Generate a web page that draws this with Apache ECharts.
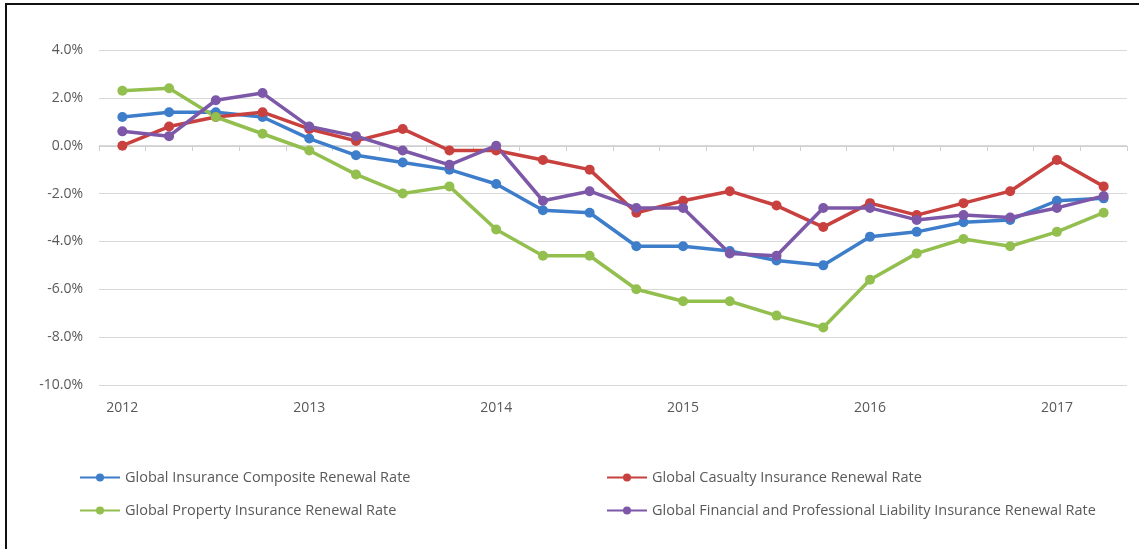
<!DOCTYPE html>
<html>
<head>
<meta charset="utf-8">
<script src="https://cdn.jsdelivr.net/npm/echarts@6/dist/echarts.min.js"></script>
<style>
html,body{margin:0;padding:0;background:#fff;}
#frame{position:absolute;left:5px;top:3px;width:1134px;height:546px;border-left:2px solid #111;border-top:2px solid #111;box-sizing:border-box;}
#chart{position:absolute;left:0;top:0;width:1139px;height:549px;}
</style>
</head>
<body>
<div id="frame"></div>
<div id="chart"></div>
<script>
const categories = ['2012','2012Q2','2012Q3','2012Q4','2013','2013Q2','2013Q3','2013Q4','2014','2014Q2','2014Q3','2014Q4','2015','2015Q2','2015Q3','2015Q4','2016','2016Q2','2016Q3','2016Q4','2017','2017Q2'];
const composite = [1.2,1.4,1.4,1.2,0.3,-0.4,-0.7,-1.0,-1.6,-2.7,-2.8,-4.2,-4.2,-4.4,-4.8,-5.0,-3.8,-3.6,-3.2,-3.1,-2.3,-2.2];
const casualty  = [0.0,0.8,1.2,1.4,0.7,0.2,0.7,-0.2,-0.2,-0.6,-1.0,-2.8,-2.3,-1.9,-2.5,-3.4,-2.4,-2.9,-2.4,-1.9,-0.6,-1.7];
const property  = [2.3,2.4,1.2,0.5,-0.2,-1.2,-2.0,-1.7,-3.5,-4.6,-4.6,-6.0,-6.5,-6.5,-7.1,-7.6,-5.6,-4.5,-3.9,-4.2,-3.6,-2.8];
const financial = [0.6,0.4,1.9,2.2,0.8,0.4,-0.2,-0.8,0.0,-2.3,-1.9,-2.6,-2.6,-4.5,-4.6,-2.6,-2.6,-3.1,-2.9,-3.0,-2.6,-2.1];
const seriesNames = [
  'Global Insurance Composite Renewal Rate',
  'Global Casualty Insurance Renewal Rate',
  'Global Property Insurance Renewal Rate',
  'Global Financial and Professional Liability Insurance Renewal Rate'
];
const colors = ['#3d7dca','#c8413f','#93bf4f','#7d58a8'];

const chart = echarts.init(document.getElementById('chart'));
function mk(name, data, color){
  return {name:name,type:'line',data:data,symbol:'circle',symbolSize:10,
    lineStyle:{width:3.5,color:color},itemStyle:{color:color},emphasis:{disabled:true}};
}
const legendBase = {orient:'vertical',itemWidth:40,itemHeight:10,itemGap:18,
  textStyle:{color:'#595959',fontSize:14.5,fontFamily:'Open Sans'}};
chart.setOption({
  animation:false,
  color:colors,
  grid:{left:99,right:12,top:50,bottom:164,containLabel:false,outerBoundsMode:'none'},
  legend:[
    Object.assign({},legendBase,{left:74,top:465,data:[seriesNames[0],seriesNames[2]]}),
    Object.assign({},legendBase,{left:601,top:465,data:[seriesNames[1],seriesNames[3]]})
  ],
  xAxis:[{
    type:'category',data:categories,boundaryGap:true,position:'bottom',
    axisLine:{show:false,onZero:false},axisTick:{show:false},
    axisLabel:{interval:3,color:'#595959',fontSize:14,fontFamily:'Open Sans',margin:16,
      formatter:function(v){return v.length===4?v:'';}}
  },{
    type:'category',data:categories,boundaryGap:true,position:'top',offset:-96,
    axisLine:{show:true,onZero:false,lineStyle:{color:'#cfcfcf',width:1}},
    axisTick:{show:true,inside:true,interval:0,length:5,lineStyle:{color:'#cfcfcf'}},
    axisLabel:{show:false}
  }],
  yAxis:{
    type:'value',min:-10,max:4,interval:2,
    axisLine:{show:false},axisTick:{show:false},
    splitLine:{lineStyle:{color:'#d9d9d9',width:1}},
    axisLabel:{color:'#595959',fontSize:14,fontFamily:'Open Sans',margin:16,
      formatter:function(v){return v.toFixed(1)+'%';}}
  },
  series:[
    mk(seriesNames[0],composite,colors[0]),
    mk(seriesNames[1],casualty,colors[1]),
    mk(seriesNames[2],property,colors[2]),
    mk(seriesNames[3],financial,colors[3])
  ]
});
</script>
</body>
</html>
